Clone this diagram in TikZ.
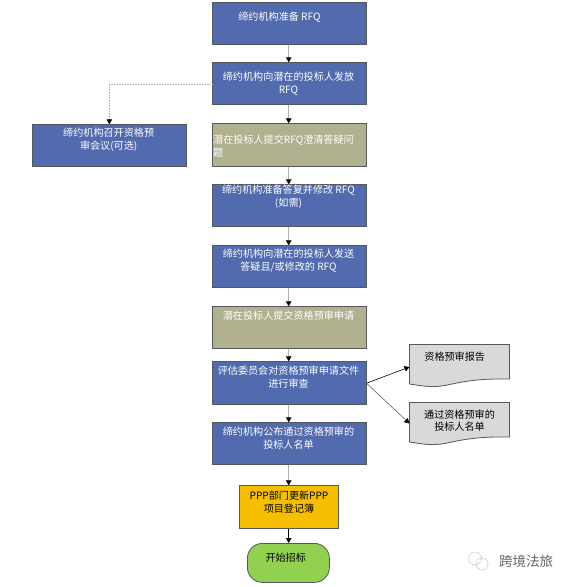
\documentclass[tikz,border=0pt]{standalone}
\usepackage{fontspec}
\setmainfont{Noto Sans CJK SC}
\usetikzlibrary{arrows.meta,calc}
\definecolor{bluebox}{HTML}{516BAE}
\definecolor{olivebox}{HTML}{B1B08F}
\definecolor{edgegray}{HTML}{55585C}
\definecolor{yellowbox}{HTML}{F5BF00}
\definecolor{greenbox}{HTML}{92D050}
\definecolor{docgray}{HTML}{D9D9D9}
\tikzset{
  x=1pt,y=-1pt,
  boxbase/.style={draw=edgegray,line width=0.8pt,minimum width=153.5pt,minimum height=42pt,anchor=north west,inner sep=0pt},
  txt/.style={font=\fontsize{10.1}{13}\selectfont,align=center,inner sep=0pt},
  wtxt/.style={txt,text=white},
  bluestep/.style={boxbase,fill=bluebox},
  olivestep/.style={boxbase,fill=olivebox},
  conn/.style={draw=black!30,line width=0.6pt,-{Triangle[black,length=5pt,width=5.5pt]}},
  dotconn/.style={draw=black!30,line width=0.6pt,densely dotted,-{Triangle[black,length=5pt,width=5.5pt]}},
  darkconn/.style={draw=black,line width=0.6pt,-{Triangle[black,length=5pt,width=5.5pt]}},
  midconn/.style={draw=black!60,line width=0.6pt,-{Triangle[black,length=5pt,width=5.5pt]}},
  docshape/.style={draw=edgegray,line width=0.8pt,fill=docgray}
}
\begin{document}
\begin{tikzpicture}
\useasboundingbox (0,0) rectangle (572,587);
\fill[white] (0,0) rectangle (572,587);
\node[bluestep] (b1) at (212.2,2.3) {};
\node[bluestep] (b2) at (212.2,62.3) {};
\node[olivestep,minimum height=43pt] (b3) at (212.2,123.3) {};
\node[bluestep] (b4) at (212.2,184.3) {};
\node[bluestep] (b5) at (212.2,245.3) {};
\node[olivestep] (b6) at (212.2,306.3) {};
\node[bluestep,minimum height=43pt] (b7) at (212.2,361.3) {};
\node[bluestep] (b8) at (212.2,422.3) {};
\node[bluestep] (left) at (32.2,124.3) {};
\node[boxbase,fill=yellowbox,minimum width=99pt,minimum height=43pt] (y) at (239.3,485.3) {};
\node[draw=edgegray,line width=0.8pt,fill=greenbox,minimum width=82pt,minimum height=39pt,rounded corners=15pt,anchor=north west,inner sep=0pt] (g) at (247,543) {};
\draw[docshape] (409.5,344.5) -- (509.5,344.5) -- (509.5,379)
  .. controls (480,378.5) and (465,381) .. (445,385.5)
  .. controls (430,388) and (420,385.5) .. (409.5,384) -- cycle;
\draw[docshape] (409.5,402.5) -- (509.5,402.5) -- (509.5,437)
  .. controls (480,436.5) and (465,439) .. (445,443.5)
  .. controls (430,446) and (420,443.5) .. (409.5,442) -- cycle;
\coordinate (d1) at (409.5,367);
\coordinate (d2) at (409.5,423.5);

\node[wtxt] (t1) at (279.5,17) {缔约机构准备 RFQ};
\node[wtxt] (t2) at (288.5,84) {缔约机构向潜在的投标人发放\\RFQ};
\node[wtxt,align=left,anchor=west] (t3) at (213,146) {潜在投标人提交RFQ澄清答疑问\\题};
\node[wtxt] (t4) at (288.5,197) {缔约机构准备答复并修改 RFQ\\(如需)};
\node[wtxt] (t5) at (288.5,261) {缔约机构向潜在的投标人发送\\答疑且/或修改的 RFQ};
\node[wtxt] (t6) at (288.5,315.5) {潜在投标人提交资格预审申请};
\node[wtxt] (t7) at (288.5,377) {评估委员会对资格预审申请文件\\进行审查};
\node[wtxt] (t8) at (288.5,438) {缔约机构公布通过资格预审的\\投标人名单};
\node[wtxt] (tl) at (108.7,140) {缔约机构召开资格预\\审会议(可选)};
\node[txt] (ty) at (289,502) {PPP部门更新PPP\\项目登记簿};
\node[txt] (tg) at (285.7,558) {开始招标};
\node[txt] (td1) at (454.7,356.7) {资格预审报告};
\node[txt,font=\fontsize{10.1}{11.5}\selectfont] (td2) at (459.5,420.5) {通过资格预审的\\投标人名单};
\node[txt,text=black!60,font=\fontsize{13.5}{14}\selectfont] (wm) at (526,561) {跨境法旅};

\draw[black!35,line width=0.7pt,densely dotted] (475,558.5) circle (6.5pt);
\draw[black!35,line width=0.7pt,densely dotted] (482,564) circle (6pt);

\draw[conn] (b1.south -| 288.7,0) -- (b2.north -| 288.7,0);
\draw[conn] (b2.south -| 288.7,0) -- (b3.north -| 288.7,0);
\draw[conn] (b3.south -| 288.7,0) -- (b4.north -| 288.7,0);
\draw[conn] (b4.south -| 288.7,0) -- (b5.north -| 288.7,0);
\draw[conn] (b5.south -| 288.7,0) -- (b6.north -| 288.7,0);
\draw[conn] (b6.south -| 288.7,0) -- (b7.north -| 288.7,0);
\draw[conn] (b7.south -| 288.7,0) -- (b8.north -| 288.7,0);
\draw[conn] (b8.south -| 288.7,0) -- (y.north -| 288.7,0);
\draw[darkconn] (y.south -| 288.7,0) -- (g.north -| 288.7,0);
\draw[dotconn] (b2.west |- 0,84.3) -| (left.north);
\draw[darkconn] (b7.east) -- (d1);
\draw[midconn] (b7.east) -- (d2);
\end{tikzpicture}
\end{document}
